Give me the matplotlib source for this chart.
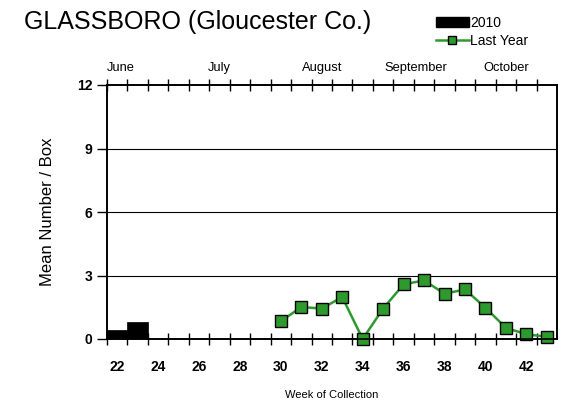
import matplotlib
matplotlib.use('Agg')
import matplotlib.pyplot as plt
from matplotlib.lines import Line2D
from matplotlib.patches import Patch

plt.rcParams['font.family'] = ['Liberation Sans', 'DejaVu Sans']

# datos
semanas_2010 = [22, 23]
valores_2010 = [0.42, 0.8]
semanas_ant = [30, 31, 32, 33, 34, 35, 36, 37, 38, 39, 40, 41, 42, 43]
valores_ant = [0.84, 1.51, 1.44, 1.98, 0.0, 1.44, 2.58, 2.77, 2.14, 2.34, 1.48, 0.53, 0.22, 0.11]
meses = ['June', 'July', 'August', 'September', 'October']
meses_pos = [22.15, 27.0, 32.0, 36.6, 41.0]
yticks = [0, 3, 6, 9, 12]
xticks = list(range(22, 44, 2))

fig = plt.figure(figsize=(5.66, 4.01), dpi=100)
ax = fig.add_axes([107/566, 1 - 339/401, 450/566, 254/401])

ax.bar(semanas_2010, valores_2010, width=1.0, color='black', edgecolor='black', linewidth=0.5, zorder=3)
ax.plot(semanas_ant, valores_ant, color='#2e9a2e', lw=1.8, marker='s', ms=9,
        markerfacecolor='#2e9a2e', markeredgecolor='black', markeredgewidth=1, zorder=4, clip_on=False)

ax.set_xlim(21.5, 43.5)
ax.set_ylim(0, 12)
for v in [3, 6, 9]:
    ax.axhline(v, color='black', lw=0.8, zorder=1)

ax.set_yticks(yticks)
ax.set_yticklabels([str(v) for v in yticks], fontsize=10, fontweight='bold')
ax.tick_params(axis='y', length=7, width=1, direction='out')
ax.set_xticks(xticks)
ax.set_xticklabels([str(v) for v in xticks], fontsize=10, fontweight='bold')
ax.set_xticks([w + 0.5 for w in range(21, 43)], minor=True)
ax.tick_params(axis='x', which='major', length=0, pad=15)
ax.tick_params(axis='x', which='minor', length=8, width=1, direction='inout')

# ticks del eje superior
ax2 = ax.twiny()
ax2.set_xlim(ax.get_xlim())
ax2.set_xticks([w + 0.5 for w in range(21, 43)])
ax2.set_xticklabels([])
ax2.tick_params(axis='x', length=8, width=1, direction='inout')

for s in ['left', 'bottom', 'top', 'right']:
    ax.spines[s].set_linewidth(1.2)
    ax2.spines[s].set_linewidth(1.2)

for m, p in zip(meses, meses_pos):
    ax.text(p, 12.5, m, fontsize=9.3, ha='center', va='bottom')

ax.set_ylabel('Mean Number / Box', fontsize=12, labelpad=16)
ax.set_xlabel('Week of Collection', fontsize=8, labelpad=12)

fig.text(24/566, 1 - 22/401, 'GLASSBORO (Gloucester Co.)', fontsize=18, va='center', ha='left')

handles = [Patch(facecolor='black', edgecolor='black'),
           Line2D([0], [0], color='#2e9a2e', lw=1.8, marker='s', ms=6,
                  markerfacecolor='#2e9a2e', markeredgecolor='black')]
fig.legend(handles, ['2010', 'Last Year'], loc='upper left', bbox_to_anchor=(426/566, 1 - 6/401),
           frameon=False, fontsize=10, handlelength=2.4, handletextpad=0.1, labelspacing=0.3,
           borderpad=0.2)

plt.savefig('out.png', dpi=100)
